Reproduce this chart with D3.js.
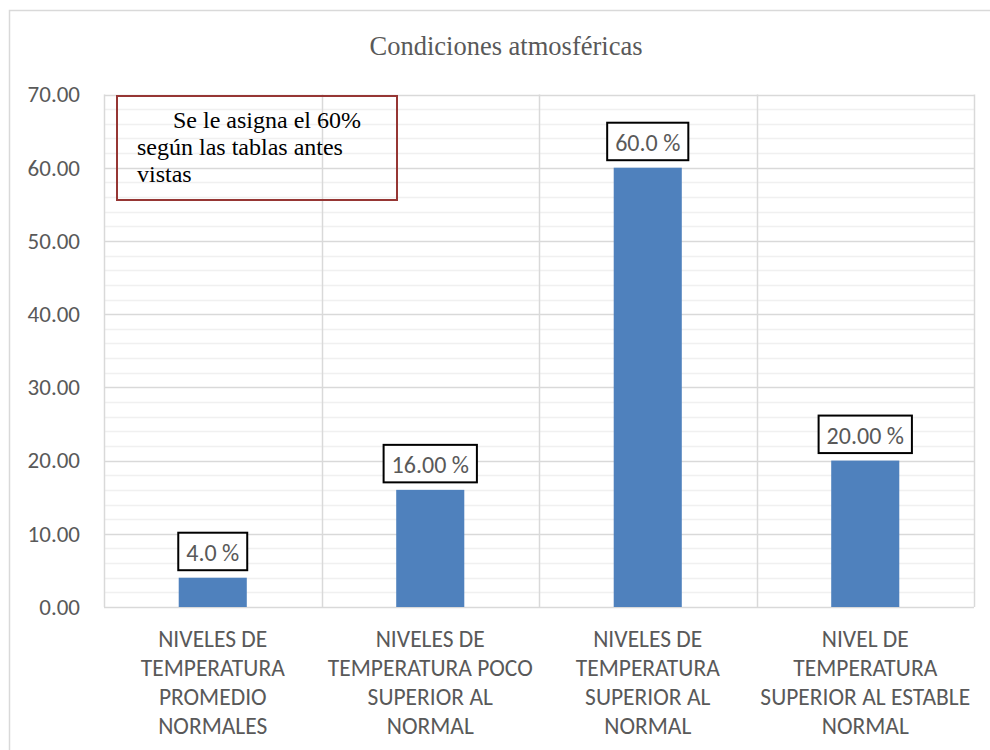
<!DOCTYPE html>
<html>
<head>
<meta charset="utf-8">
<script src="https://cdn.jsdelivr.net/npm/d3@7"></script>
<style>
  body { margin: 0; background: #fff; }
  #chart svg { display: block; }
</style>
</head>
<body>
<div id="chart"></div>
<script>
// chart values
var categories = [
    "NIVELES DE\nTEMPERATURA\nPROMEDIO\nNORMALES",
    "NIVELES DE\nTEMPERATURA POCO\nSUPERIOR AL\nNORMAL",
    "NIVELES DE\nTEMPERATURA\nSUPERIOR AL\nNORMAL",
    "NIVEL DE\nTEMPERATURA\nSUPERIOR AL ESTABLE\nNORMAL"
];
var values = [4, 16, 60, 20];
var valueLabels = ["4.0 %", "16.00 %", "60.0 %", "20.00 %"];
var yTicks = [0, 10, 20, 30, 40, 50, 60, 70];
var title = "Condiciones atmosféricas";
var noteLines = ["Se le asigna el 60%", "según las tablas antes", "vistas"];

var width = 990,
    height = 750;

var plot = { left: 104, right: 974, top: 94.5, bottom: 607 };

var sansFont = "Carlito, Calibri, Lato, sans-serif";
var serifFont = "'Liberation Serif', 'Times New Roman', serif";

var svg = d3.select("#chart").append("svg")
    .attr("width", width)
    .attr("height", height);

// outer chart border (cut off on the right and bottom)
svg.append("rect")
    .attr("x", 9.5).attr("y", 10.5)
    .attr("width", 1000).attr("height", 800)
    .attr("fill", "#fff")
    .attr("stroke", "#d9d9d9")
    .attr("stroke-width", 1.5);

var x = d3.scaleBand()
    .domain(categories)
    .range([plot.left, plot.right])
    .padding(0);

var y = d3.scaleLinear()
    .domain([0, 70])
    .range([plot.bottom, plot.top]);

// minor gridlines every 2
var minor = d3.range(2, 70, 2).filter(function(v) { return v % 10 != 0; });
svg.append("g").selectAll("line").data(minor)
    .enter().append("line")
    .attr("x1", plot.left).attr("x2", plot.right)
    .attr("y1", function(d) { return Math.round(y(d)) + 0.5; })
    .attr("y2", function(d) { return Math.round(y(d)) + 0.5; })
    .attr("stroke", "#f0f0f0")
    .attr("stroke-width", 1.5);

// major gridlines
svg.append("g").selectAll("line").data(yTicks)
    .enter().append("line")
    .attr("x1", plot.left).attr("x2", plot.right)
    .attr("y1", function(d) { return Math.round(y(d)) + 0.5; })
    .attr("y2", function(d) { return Math.round(y(d)) + 0.5; })
    .attr("stroke", "#d9d9d9")
    .attr("stroke-width", 1.5);

// vertical lines between categories
var edges = categories.map(function(c) { return x(c); }).concat([x.range()[1]]);
svg.append("g").selectAll("line").data(edges)
    .enter().append("line")
    .attr("x1", function(d) { return Math.round(d) + 0.5; })
    .attr("x2", function(d) { return Math.round(d) + 0.5; })
    .attr("y1", plot.top).attr("y2", plot.bottom)
    .attr("stroke", "#d9d9d9")
    .attr("stroke-width", 1.5);

// y axis labels
var yAxis = d3.axisLeft(y)
    .tickValues(yTicks)
    .tickSize(0)
    .tickPadding(24)
    .tickFormat(d3.format(".2f"));

var gy = svg.append("g")
    .attr("transform", "translate(" + plot.left + ",0)")
    .call(yAxis);
gy.select(".domain").remove();
gy.selectAll("text")
    .attr("fill", "#595959")
    .style("font-family", sansFont)
    .style("font-size", "23px");

// bars
var barW = x.bandwidth() * 0.313;
svg.append("g").selectAll("rect").data(values)
    .enter().append("rect")
    .attr("x", function(d, i) { return x(categories[i]) + x.bandwidth() / 2 - barW / 2; })
    .attr("y", function(d) { return y(d); })
    .attr("width", barW)
    .attr("height", function(d) { return y(0) - y(d); })
    .attr("fill", "#4f81bd");

// data labels with boxes
var lbl = svg.append("g").selectAll("g").data(values)
    .enter().append("g");

lbl.append("text")
    .attr("x", function(d, i) { return x(categories[i]) + x.bandwidth() / 2; })
    .attr("y", function(d) { return y(d) - 17; })
    .attr("text-anchor", "middle")
    .attr("fill", "#595959")
    .style("font-family", sansFont)
    .style("font-size", "24px")
    .text(function(d, i) { return valueLabels[i]; });

lbl.each(function(d, i) {
    var g = d3.select(this);
    var w = g.select("text").node().getComputedTextLength() + 16;
    var cx = x(categories[i]) + x.bandwidth() / 2;
    g.insert("rect", "text")
        .attr("x", cx - w / 2)
        .attr("y", y(d) - 45)
        .attr("width", w)
        .attr("height", 37.5)
        .attr("fill", "#fff")
        .attr("stroke", "#000")
        .attr("stroke-width", 2);
});

// category labels
svg.append("g").selectAll("text").data(categories)
    .enter().append("text")
    .attr("text-anchor", "middle")
    .attr("fill", "#595959")
    .style("font-family", sansFont)
    .style("font-size", "23.5px")
    .each(function(c) {
        var t = d3.select(this);
        c.split("\n").forEach(function(line, k) {
            t.append("tspan")
                .attr("x", x(c) + x.bandwidth() / 2)
                .attr("y", 647 + k * 29)
                .text(line);
        });
    });

// title
svg.append("text")
    .attr("x", 506)
    .attr("y", 55)
    .attr("text-anchor", "middle")
    .attr("fill", "#595959")
    .style("font-family", serifFont)
    .style("font-size", "26.5px")
    .text(title);

// note box
svg.append("rect")
    .attr("x", 117).attr("y", 96)
    .attr("width", 280).attr("height", 104)
    .attr("fill", "none")
    .attr("stroke", "#963634")
    .attr("stroke-width", 2);

svg.append("g").selectAll("text").data(noteLines)
    .enter().append("text")
    .attr("x", function(d, i) { return i == 0 ? 173 : 137; })
    .attr("y", function(d, i) { return 128 + i * 27; })
    .attr("fill", "#000")
    .style("font-family", serifFont)
    .style("font-size", "24px")
    .text(function(d) { return d; });
</script>
</body>
</html>
